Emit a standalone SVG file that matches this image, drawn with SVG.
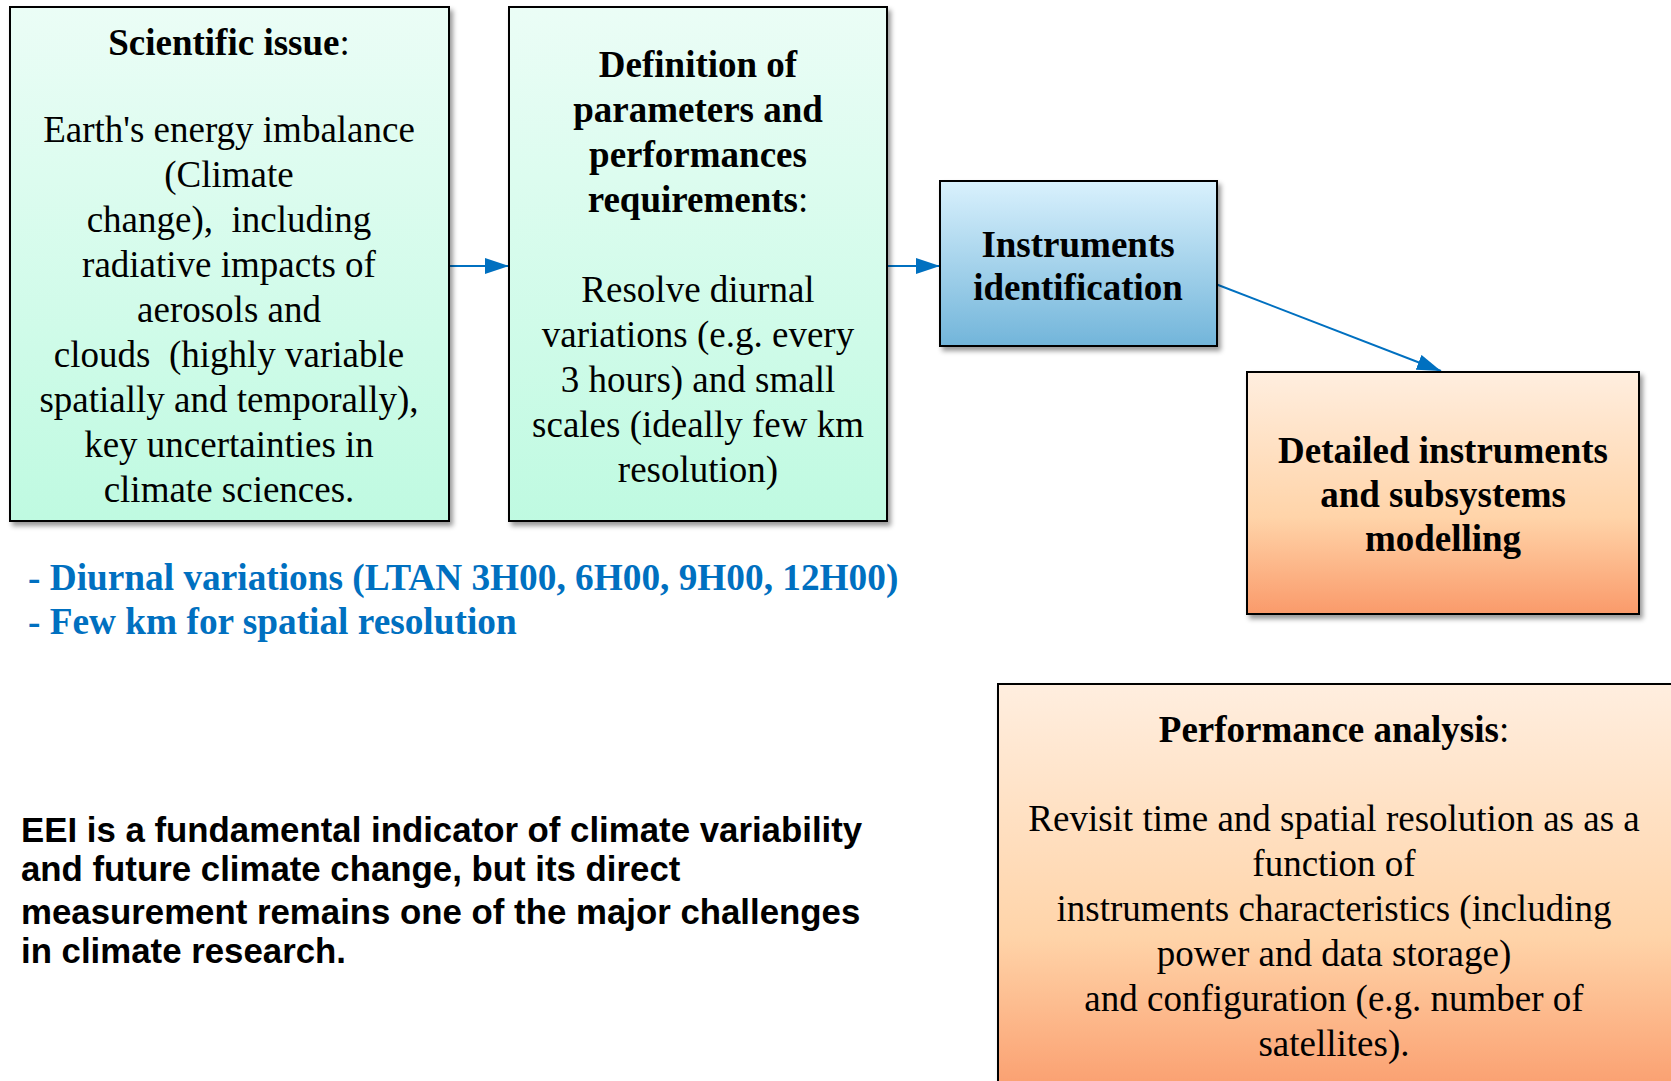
<svg xmlns="http://www.w3.org/2000/svg" width="1671" height="1081" viewBox="0 0 1671 1081">
<style>
.box{stroke:#000;stroke-width:2}
.t{font-family:"Liberation Serif","Times New Roman",serif;font-size:37px;fill:#000;text-anchor:middle;white-space:pre}
.b{font-weight:bold}
.blue{font-family:"Liberation Serif","Times New Roman",serif;font-size:37.3px;font-weight:bold;fill:#0070C0}
.arial{font-family:"Liberation Sans",Arial,sans-serif;font-size:34.8px;font-weight:bold;fill:#000}
.conn{stroke:#0070C0;stroke-width:2;fill:none}
</style>
<defs>
<linearGradient id="mint" x1="0" y1="0" x2="0" y2="1">
<stop offset="0" stop-color="#EBFDF6"/>
<stop offset="1" stop-color="#BFFAE1"/>
</linearGradient>
<linearGradient id="sky" x1="0" y1="0" x2="0" y2="1">
<stop offset="0" stop-color="#D9F1FD"/>
<stop offset="1" stop-color="#72B5DA"/>
</linearGradient>
<linearGradient id="peach" x1="0" y1="0" x2="0" y2="1">
<stop offset="0" stop-color="#FFEEDF"/>
<stop offset="0.6" stop-color="#FFD4A9"/>
<stop offset="1" stop-color="#FA9A6A"/>
</linearGradient>
<filter id="sh" x="-5%" y="-5%" width="115%" height="115%">
<feDropShadow dx="3" dy="4" stdDeviation="2.5" flood-color="#000" flood-opacity="0.4"/>
</filter>
<marker id="ah" markerUnits="userSpaceOnUse" markerWidth="24" markerHeight="16" refX="24" refY="8" orient="auto">
<path d="M0,0 L24,8 L0,16 Z" fill="#0070C0"/>
</marker>
</defs>

<g id="connectors">
<line class="conn" x1="449" y1="266" x2="509" y2="266" marker-end="url(#ah)"/>
<line class="conn" x1="887" y1="266" x2="940" y2="266" marker-end="url(#ah)"/>
<line class="conn" x1="1213" y1="283" x2="1441" y2="371" marker-end="url(#ah)"/>
</g>

<g id="scientific-issue">
<rect class="box" x="10" y="7" width="439" height="514" fill="url(#mint)" filter="url(#sh)"/>
<text class="t" x="229" y="55"><tspan class="b">Scientific issue</tspan>:</text>
<text class="t" x="229" y="142">Earth's energy imbalance</text>
<text class="t" x="229" y="187">(Climate</text>
<text class="t" x="229" y="232" xml:space="preserve">change),  including</text>
<text class="t" x="229" y="277">radiative impacts of</text>
<text class="t" x="229" y="322">aerosols and</text>
<text class="t" x="229" y="367" xml:space="preserve">clouds  (highly variable</text>
<text class="t" x="229" y="412">spatially and temporally),</text>
<text class="t" x="229" y="457">key uncertainties in</text>
<text class="t" x="229" y="502">climate sciences.</text>
</g>

<g id="definition">
<rect class="box" x="509" y="7" width="378" height="514" fill="url(#mint)" filter="url(#sh)"/>
<text class="t b" x="698" y="77">Definition of</text>
<text class="t b" x="698" y="122">parameters and</text>
<text class="t b" x="698" y="167">performances</text>
<text class="t" x="698" y="212"><tspan class="b">requirements</tspan>:</text>
<text class="t" x="698" y="302">Resolve diurnal</text>
<text class="t" x="698" y="347">variations (e.g. every</text>
<text class="t" x="698" y="392">3 hours) and small</text>
<text class="t" x="698" y="437">scales (ideally few km</text>
<text class="t" x="698" y="482">resolution)</text>
</g>

<g id="instruments">
<rect class="box" x="940" y="181" width="277" height="165" fill="url(#sky)" filter="url(#sh)"/>
<text class="t b" x="1078" y="257">Instruments</text>
<text class="t b" x="1078" y="300">identification</text>
</g>

<g id="detailed">
<rect class="box" x="1247" y="372" width="392" height="242" fill="url(#peach)" filter="url(#sh)"/>
<text class="t b" x="1443" y="463">Detailed instruments</text>
<text class="t b" x="1443" y="507">and subsystems</text>
<text class="t b" x="1443" y="551">modelling</text>
</g>

<g id="performance">
<rect class="box" x="998" y="684" width="700" height="420" fill="url(#peach)" filter="url(#sh)"/>
<text class="t" x="1334" y="742"><tspan class="b">Performance analysis</tspan>:</text>
<text class="t" x="1334" y="831">Revisit time and spatial resolution as as a</text>
<text class="t" x="1334" y="876">function of</text>
<text class="t" x="1334" y="921">instruments characteristics (including</text>
<text class="t" x="1334" y="966">power and data storage)</text>
<text class="t" x="1334" y="1011">and configuration (e.g. number of</text>
<text class="t" x="1334" y="1056">satellites).</text>
</g>

<g id="notes">
<text class="blue" x="28" y="590">- Diurnal variations (LTAN 3H00, 6H00, 9H00, 12H00)</text>
<text class="blue" x="28" y="634">- Few km for spatial resolution</text>
</g>

<g id="eei-text">
<text class="arial" x="21" y="842">EEI is a fundamental indicator of climate variability</text>
<text class="arial" x="21" y="881">and future climate change, but its direct</text>
<text class="arial" x="21" y="924">measurement remains one of the major challenges</text>
<text class="arial" x="21" y="963">in climate research.</text>
</g>
</svg>
